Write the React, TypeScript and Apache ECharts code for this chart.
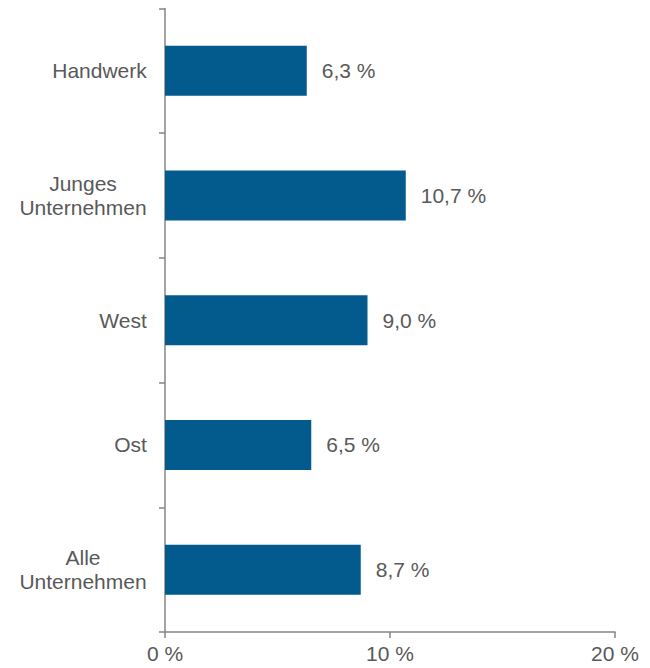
import React, { useEffect, useRef } from "react";
import * as echarts from "echarts";

const categories = ["Handwerk", "Junges\nUnternehmen", "West", "Ost", "Alle\nUnternehmen"];
const values = [6.3, 10.7, 9.0, 6.5, 8.7];
const xTicks = [0, 10, 20];

const FONT = "'Liberation Sans', Arial, sans-serif";

function measure(text: string): number {
  const c = document.createElement("canvas");
  const ctx = c.getContext("2d");
  if (!ctx) return text.length * 11;
  ctx.font = `21px ${FONT}`;
  return ctx.measureText(text).width;
}

export default function App() {
  const ref = useRef<HTMLDivElement>(null);
  useEffect(() => {
    if (!ref.current) return;
    const chart = echarts.init(ref.current, null, { renderer: "svg" });
    const textStyle = { color: "#595959", fontSize: 21, fontFamily: FONT, lineHeight: 24 };
    const multiWidths: number[] = categories.map((c) =>
      Math.max(...c.split("\n").map((l) => measure(l)))
    );
    const rich: Record<string, any> = {};
    categories.forEach((c, i) => {
      rich["c" + i] = { ...textStyle, width: Math.ceil(multiWidths[i]), align: "center" };
    });
    chart.setOption({
      animation: false,
      grid: { left: 165, right: 35, top: 8.5, bottom: 36, containLabel: false },
      xAxis: {
        type: "value",
        min: xTicks[0],
        max: xTicks[xTicks.length - 1],
        interval: 10,
        splitLine: { show: false },
        axisLine: { show: true, lineStyle: { color: "#868686", width: 1.5 } },
        axisTick: { show: true, length: 6, lineStyle: { color: "#868686", width: 1.5 } },
        axisLabel: {
          color: "#595959",
          fontSize: 21,
          fontFamily: FONT,
          margin: 11,
          formatter: (v: number) => `${v} %`,
        },
      },
      yAxis: {
        type: "category",
        inverse: true,
        data: categories,
        axisLine: { show: true, lineStyle: { color: "#868686", width: 1.5 } },
        axisTick: { show: true, length: 6, lineStyle: { color: "#868686", width: 1.5 } },
        axisLabel: {
          ...textStyle,
          margin: 18,
          rich,
          formatter: (v: string, idx: number) => {
            const i = categories.indexOf(v);
            const key = "c" + (i >= 0 ? i : idx);
            return v
              .split("\n")
              .map((l) => `{${key}|${l}}`)
              .join("\n");
          },
        },
      },
      series: [
        {
          type: "bar",
          data: values,
          barWidth: 50,
          itemStyle: { color: "#035a8c" },
          label: {
            show: true,
            position: "right",
            distance: 15,
            color: "#595959",
            fontSize: 21,
            fontFamily: FONT,
            formatter: (p: any) => `${p.value.toFixed(1).replace(".", ",")} %`,
          },
        },
      ],
    });
    return () => chart.dispose();
  }, []);
  return <div ref={ref} style={{ width: 650, height: 668, position: "absolute", left: 0, top: 0 }} />;
}
